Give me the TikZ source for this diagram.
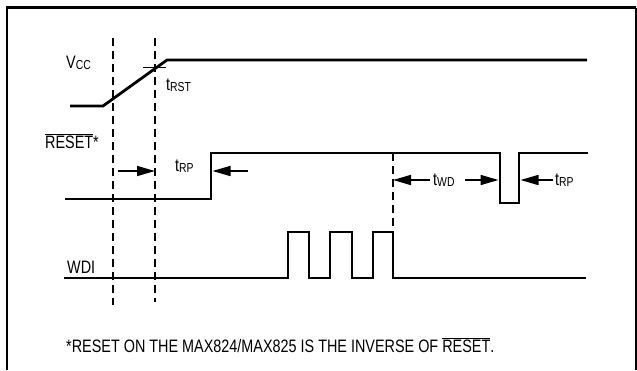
\documentclass[tikz,border=0pt]{standalone}
\usepackage{fontspec}
\setmainfont{Liberation Sans}[FakeStretch=0.8]
\usetikzlibrary{arrows.meta}
\newcommand\sbs[1]{\raisebox{-0.2ex}{\fontsize{13}{13}\selectfont #1}}
\begin{document}
\begin{tikzpicture}[x=1pt,y=-1pt,
  sig/.style={line width=2.8pt, line join=miter},
  guide/.style={line width=1.6pt, dash pattern=on 8pt off 5pt},
  frame/.style={line width=2.6pt},
  dimarrow/.style={line width=1.6pt, -{Triangle[length=18pt,width=10pt]}},
  lbl/.style={inner sep=0pt, anchor=base west, font=\fontsize{18}{18}\selectfont},
  note/.style={inner sep=0pt, anchor=base west, font=\fontsize{18}{18}\selectfont}]
\useasboundingbox (0,0) rectangle (637,370);
% frame
\draw[frame] (7,370) -- (7,7.5) -- (636,7.5);
\draw[line width=1.6pt] (635.8,7.5) -- (635.8,370);
% guides
\draw[guide] (113,38) -- (113,305);
\draw[guide] (155,38) -- (155,302);
\draw[guide] (393,153) -- (393,232);
% VCC
\draw[sig] (70,106) -- (103,106) -- (167,60) -- (587,60);
\draw[line width=1.2pt] (143,67.5) -- (166,67.5);
% RESET
\draw[sig] (65,199) -- (211,199) -- (211,153) -- (500,153) -- (500,203) -- (519,203) -- (519,153) -- (588,153);
% WDI
\draw[sig] (64,278) -- (288,278) -- (288,232) -- (309,232) -- (309,278) -- (330,278) -- (330,232) -- (352,232) -- (352,278) -- (373,278) -- (373,232) -- (393,232) -- (393,278) -- (586,278);
% arrows
\coordinate (a1s) at (118,171); \coordinate (a1t) at (155,171);
\coordinate (a2s) at (248,171); \coordinate (a2t) at (212.5,171);
\coordinate (a3s) at (430,180); \coordinate (a3t) at (393,180);
\coordinate (a4s) at (465,180); \coordinate (a4t) at (498.5,180);
\coordinate (a5s) at (553,180); \coordinate (a5t) at (520.5,180);
\draw[dimarrow] (a1s) -- (a1t);
\draw[dimarrow] (a2s) -- (a2t);
\draw[dimarrow] (a3s) -- (a3t);
\draw[dimarrow] (a4s) -- (a4t);
\draw[dimarrow] (a5s) -- (a5t);
% labels
\node[lbl] (vcc) at (66,68) {V\sbs{CC}};
\node[lbl] (trst) at (166,90) {t\sbs{RST}};
\node[lbl] (rst) at (45,148) {$\overline{\mbox{RESET}}$*};
\node[lbl] (trp1) at (175,171) {t\sbs{RP}};
\node[lbl] (twd) at (433,185) {t\sbs{WD}};
\node[lbl] (trp2) at (555,185) {t\sbs{RP}};
\node[lbl] (wdi) at (67,273) {WDI};
\node[note] (fn) at (66,352) {*RESET ON THE MAX824/MAX825 IS THE INVERSE OF $\overline{\mbox{RESET}}$.};
\end{tikzpicture}
\end{document}
